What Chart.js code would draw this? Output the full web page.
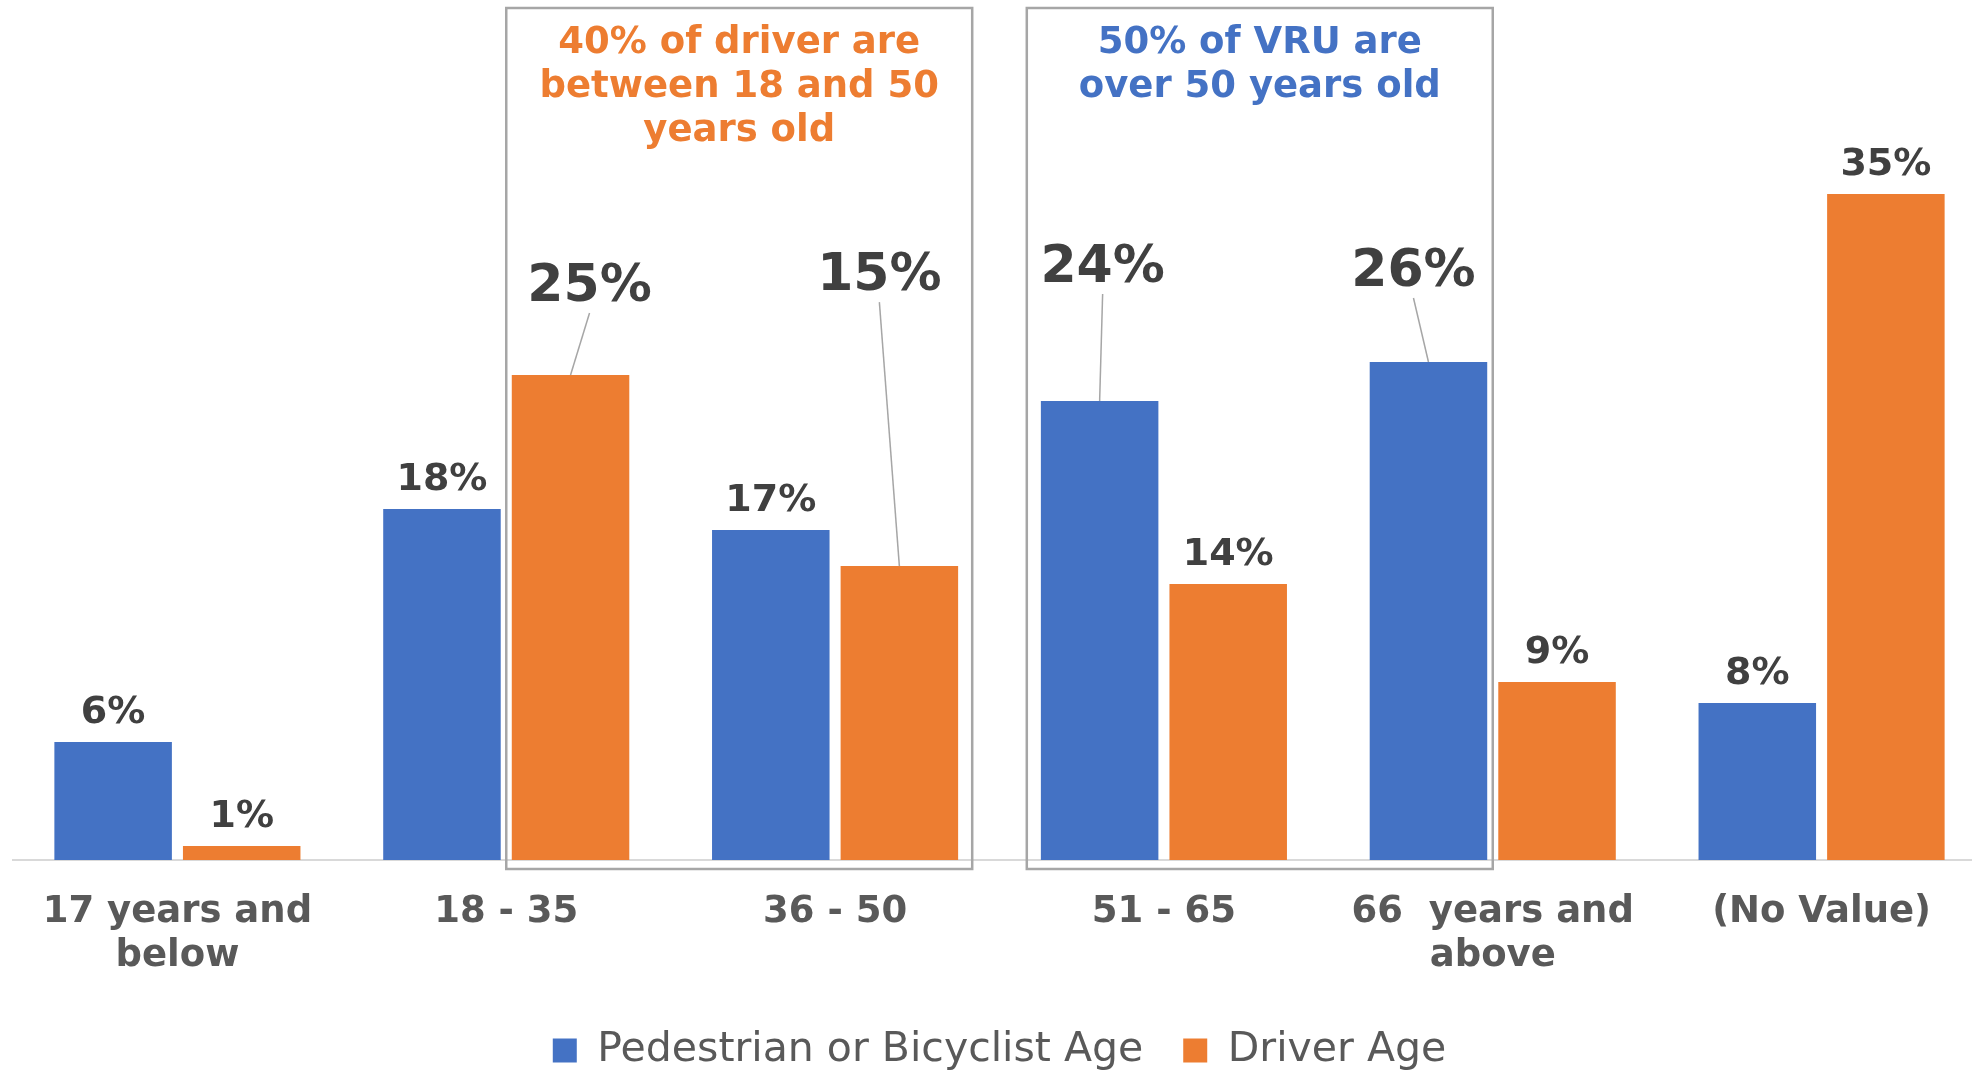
<!DOCTYPE html>
<html>
<head>
<meta charset="utf-8">
<title>VRU and driver age</title>
<script src="https://cdn.jsdelivr.net/npm/chart.js@4.4.1/dist/chart.umd.min.js"></script>
<style>
  html, body { margin: 0; padding: 0; background: #fff; overflow: hidden; }
  #wrap { width: 1986px; height: 1081px; }
</style>
</head>
<body>
<div id="wrap"><canvas id="chart" width="1986" height="1081"></canvas></div>
<script>
// data (percent)
const categories = [['17 years and', 'below'], ['18 - 35'], ['36 - 50'], ['51 - 65'], ['66  years and', 'above'], ['(No Value)']];
const seriesNames = ['Pedestrian or Bicyclist Age', 'Driver Age'];
const vruAge = [6.17, 18.37, 17.27, 24.02, 26.06, 8.22];
const driverAge = [0.73, 25.38, 15.38, 14.44, 9.31, 34.85];
const noteDriver = ['40% of driver are', 'between 18 and 50', 'years old'];
const noteVru = ['50% of VRU are', 'over 50 years old'];

const BLUE = '#4472C4';
const ORANGE = '#ED7D31';
const FONT = '"DejaVu Sans", Verdana, sans-serif';

// labels that sit away from their bar, with a leader line
const callouts = {
  '1-1': { dx: 19, dy: -74 },
  '1-2': { dx: -20, dy: -276 },
  '0-3': { dx: 3, dy: -119 },
  '0-4': { dx: -15, dy: -76 }
};

const valueLabels = {
  id: 'valueLabels',
  afterDatasetsDraw(chart) {
    const ctx = chart.ctx;
    ctx.save();
    ctx.textAlign = 'center';
    ctx.textBaseline = 'alphabetic';
    chart.data.datasets.forEach((ds, di) => {
      chart.getDatasetMeta(di).data.forEach((bar, i) => {
        const txt = Math.round(ds.data[i]) + '%';
        const c = callouts[di + '-' + i];
        ctx.fillStyle = '#404040';
        if (c) {
          const lx = bar.x + c.dx, ly = bar.y + c.dy;
          ctx.font = 'bold 52px ' + FONT;
          ctx.fillText(txt, lx, ly);
          ctx.strokeStyle = '#a6a6a6';
          ctx.lineWidth = 1.5;
          ctx.beginPath();
          ctx.moveTo(lx, ly + 12);
          ctx.lineTo(bar.x, bar.y);
          ctx.stroke();
        } else {
          ctx.font = 'bold 38px ' + FONT;
          ctx.fillText(txt, bar.x, bar.y - 19);
        }
      });
    });
    ctx.restore();
  }
};

const noteBoxes = {
  id: 'noteBoxes',
  afterDatasetsDraw(chart) {
    const ctx = chart.ctx;
    const x = chart.scales.x;
    const area = chart.chartArea;
    const cw = x.getPixelForValue(1) - x.getPixelForValue(0);
    const boxes = [
      { l: x.getPixelForValue(1), r: x.getPixelForValue(2) + cw * 0.417, lines: noteDriver, color: ORANGE },
      { l: x.getPixelForValue(3) - cw * 0.417, r: x.getPixelForValue(4), lines: noteVru, color: BLUE }
    ];
    ctx.save();
    boxes.forEach(b => {
      ctx.strokeStyle = '#a6a6a6';
      ctx.lineWidth = 2.5;
      ctx.strokeRect(b.l, 8, b.r - b.l, area.bottom + 9 - 8);
      ctx.fillStyle = b.color;
      ctx.font = 'bold 37px ' + FONT;
      ctx.textAlign = 'center';
      ctx.textBaseline = 'alphabetic';
      b.lines.forEach((t, k) => ctx.fillText(t, (b.l + b.r) / 2, 53 + k * 44));
    });
    ctx.restore();
  }
};

new Chart(document.getElementById('chart'), {
  type: 'bar',
  data: {
    labels: categories,
    datasets: [
      { label: seriesNames[0], data: vruAge, backgroundColor: BLUE, borderWidth: 0 },
      { label: seriesNames[1], data: driverAge, backgroundColor: ORANGE, borderWidth: 0 }
    ]
  },
  options: {
    responsive: false,
    animation: false,
    devicePixelRatio: 1,
    layout: { padding: { left: 13, right: 0, top: 0, bottom: 0 } },
    datasets: { bar: { categoryPercentage: 0.782, barPercentage: 0.914 } },
    plugins: {
      legend: {
        position: 'bottom',
        labels: {
          font: { family: FONT, size: 41 },
          color: '#595959',
          boxWidth: 24,
          boxHeight: 24,
          padding: 40
        }
      },
      tooltip: { enabled: false }
    },
    scales: {
      x: {
        grid: { display: false, drawTicks: false },
        border: { display: true, color: '#d9d9d9', width: 2 },
        ticks: {
          color: '#595959',
          font: { family: FONT, size: 37, weight: 'bold', lineHeight: 1.19 },
          padding: 30,
          maxRotation: 0,
          autoSkip: false
        },
        afterFit(scale) { scale.height = 130; }
      },
      y: {
        display: false,
        min: 0,
        max: 45
      }
    }
  },
  plugins: [valueLabels, noteBoxes]
});
</script>
</body>
</html>
